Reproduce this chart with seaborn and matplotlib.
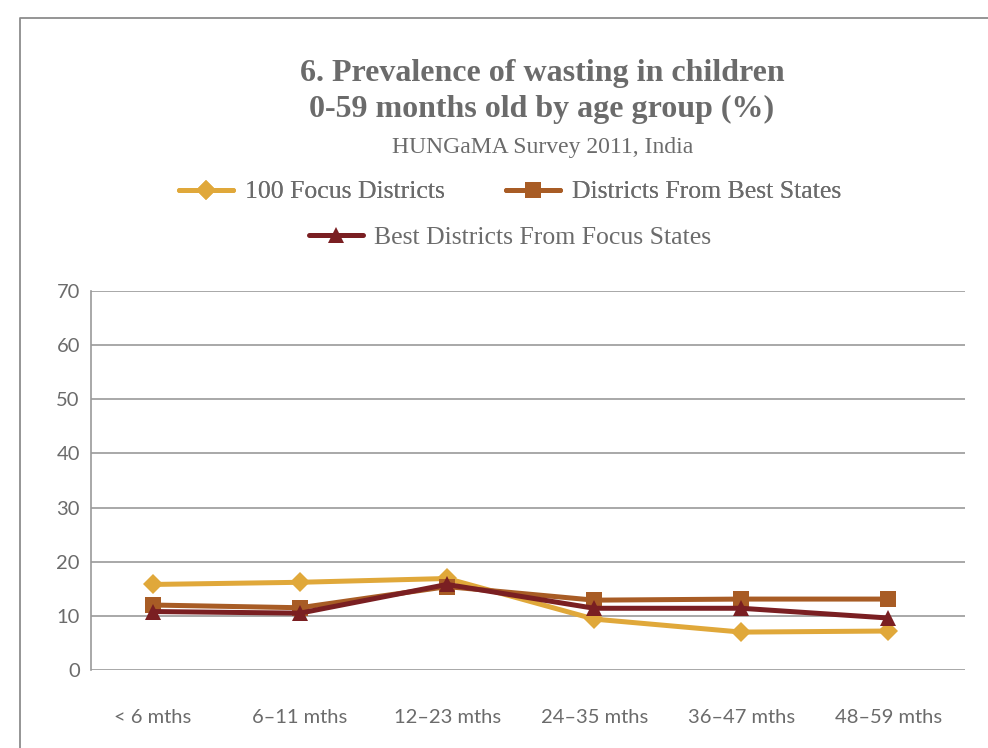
import pandas as pd
import matplotlib
matplotlib.use("Agg")
import matplotlib.pyplot as plt
import seaborn as sns
from matplotlib.lines import Line2D

# --- data ---
age_groups = ["< 6 mths", "6–11 mths", "12–23 mths", "24–35 mths", "36–47 mths", "48–59 mths"]
focus_districts = [15.8, 16.2, 16.9, 9.4, 7.0, 7.2]
best_states = [12.0, 11.5, 15.4, 12.9, 13.1, 13.1]
best_focus_states = [10.8, 10.5, 15.8, 11.4, 11.4, 9.6]
series_names = ["100 Focus Districts", "Districts From Best States", "Best Districts From Focus States"]
y_ticks = [0, 10, 20, 30, 40, 50, 60, 70]

colors = {"100 Focus Districts": "#E0A83A",
          "Districts From Best States": "#A85C25",
          "Best Districts From Focus States": "#7A1F22"}
markers = {"100 Focus Districts": "D",
           "Districts From Best States": "s",
           "Best Districts From Focus States": "^"}
msize = {"100 Focus Districts": 10, "Districts From Best States": 12,
         "Best Districts From Focus States": 12}

frames = []
for name, vals in zip(series_names, [focus_districts, best_states, best_focus_states]):
    frames.append(pd.DataFrame({"age": age_groups, "value": vals, "series": name}))
df = pd.concat(frames, ignore_index=True)
df["pos"] = df["age"].map({a: i for i, a in enumerate(age_groups)})

sns.set_theme(style="white")
text_grey = "#6b6b6b"

fig = plt.figure(figsize=(9.88, 7.48), dpi=100)
ax = fig.add_axes([91 / 988, 78 / 748, 874 / 988, 379 / 748])

for name in series_names:
    sub = df[df["series"] == name]
    sns.lineplot(data=sub, x="pos", y="value", ax=ax, color=colors[name],
                 marker=markers[name], markersize=msize[name], markeredgewidth=0,
                 linewidth=3.6, legend=False, zorder=3)

ax.set_xlim(-0.42, 5.52)
ax.set_ylim(0, 70)
ax.set_yticks(y_ticks)
ax.set_xticks(range(len(age_groups)))
ax.set_xticklabels(age_groups)
ax.set_xlabel("")
ax.set_ylabel("")
ax.yaxis.grid(True, color="#9a9a9a", linewidth=1.2)
ax.xaxis.grid(False)
for side in ["right", "bottom", "top"]:
    ax.spines[side].set_visible(False)
ax.spines["left"].set_color("#9a9a9a")
ax.spines["left"].set_linewidth(1.2)
ax.tick_params(axis="y", length=0, pad=8, labelsize=14.5, labelcolor=text_grey)
ax.tick_params(axis="x", length=0, pad=28, labelsize=14.5, labelcolor=text_grey)
for lbl in ax.get_xticklabels() + ax.get_yticklabels():
    lbl.set_family("Lato")

# outer frame
fig.add_artist(Line2D([20 / 988, 20 / 988, 1], [0, 1 - 18 / 748, 1 - 18 / 748],
                      transform=fig.transFigure, color="#8c8c8c", linewidth=1.3))

serif = ["Liberation Serif", "DejaVu Serif"]
fig.text(542 / 988, 1 - 74 / 748, "6. Prevalence of wasting in children", ha="center", va="center",
         fontsize=23, fontweight="bold", color=text_grey, family=serif)
fig.text(542 / 988, 1 - 109 / 748, "0-59 months old by age group (%)", ha="center", va="center",
         fontsize=23, fontweight="bold", color=text_grey, family=serif)
fig.text(543 / 988, 1 - 147 / 748, "HUNGaMA Survey 2011, India", ha="center", va="center",
         fontsize=17, color=text_grey, family=serif)

handles = [Line2D([], [], color=colors[n], marker=markers[n], markersize=msize[n],
                  markeredgewidth=0, linewidth=3.6) for n in series_names]
leg_font = {"family": serif, "size": 18.5}
leg1 = fig.legend(handles[:2], series_names[:2], ncol=2, loc="center",
                  bbox_to_anchor=(510 / 988, 1 - 192 / 748), frameon=False,
                  prop=leg_font, handlelength=2.1, handletextpad=0.45,
                  columnspacing=2.4, labelcolor=text_grey)
leg2 = fig.legend(handles[2:], series_names[2:], loc="center",
                  bbox_to_anchor=(510 / 988, 1 - 238 / 748), frameon=False,
                  prop=leg_font, handlelength=2.1, handletextpad=0.45, labelcolor=text_grey)
fig.add_artist(leg1)

fig.savefig("out.png", dpi=100, facecolor="white")
